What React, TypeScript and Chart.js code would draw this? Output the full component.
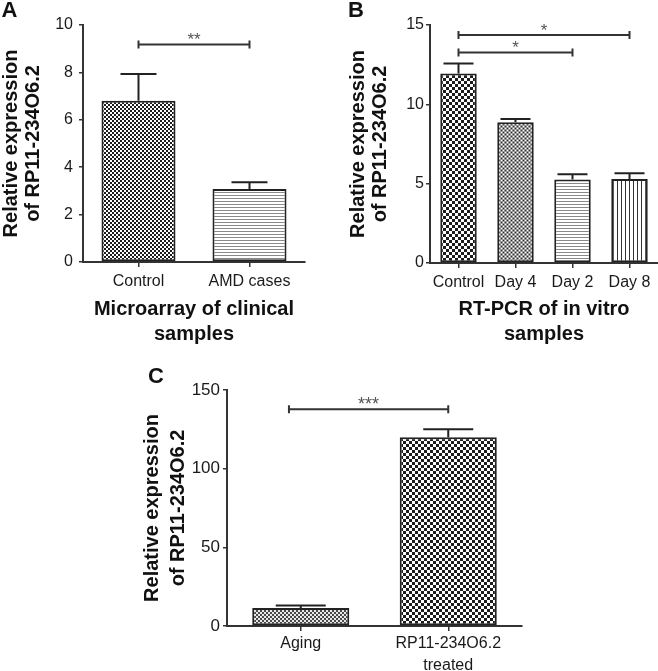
import React, { useEffect, useRef } from "react";
import { Chart, registerables } from "chart.js";

Chart.register(...registerables);

const FONT = "'Liberation Sans', Arial, Helvetica, sans-serif";

// ---------- Panel A data ----------
const catsA: (string | string[])[] = ["Control", "AMD cases"];
const valsA = [6.8, 3.08];
const errA = [1.13, 0.28];
const sigA = [{ from: 0, to: 1, y: 9.18, text: "**" }];
const ticksA = { max: 10, step: 2 };

// ---------- Panel B data ----------
const catsB: (string | string[])[] = ["Control", "Day 4", "Day 2", "Day 8"];
const valsB = [11.95, 8.87, 5.27, 5.3];
const errB = [0.63, 0.2, 0.33, 0.35];
const sigB = [
  { from: 0, to: 3, y: 14.37, text: "*" },
  { from: 0, to: 2, y: 13.27, text: "*" },
];
const ticksB = { max: 15, step: 5 };

// ---------- Panel C data ----------
const catsC: (string | string[])[] = ["Aging", ["RP11-234O6.2", "treated"]];
const valsC = [11.5, 120];
const errC = [1.5, 5];
const sigC = [{ from: -0.08, to: 1, y: 137.8, text: "***" }];
const ticksC = { max: 150, step: 50 };

const yTitleText = ["Relative expression", "of RP11-234O6.2"];

function makePattern(ctx: CanvasRenderingContext2D, kind: string): CanvasPattern | string {
  const c = document.createElement("canvas");
  const g = c.getContext("2d")!;
  if (kind === "checker2") {
    c.width = 4; c.height = 4;
    g.fillStyle = "#fff"; g.fillRect(0, 0, 4, 4);
    g.fillStyle = "#1c1c1c"; g.fillRect(0, 0, 2, 2); g.fillRect(2, 2, 2, 2);
  } else if (kind === "checker3") {
    c.width = 6; c.height = 6;
    g.fillStyle = "#fff"; g.fillRect(0, 0, 6, 6);
    g.fillStyle = "#1c1c1c"; g.fillRect(0, 0, 3, 3); g.fillRect(3, 3, 3, 3);
  } else if (kind === "dots") {
    c.width = 4; c.height = 4;
    g.fillStyle = "#9a9a9a"; g.fillRect(0, 0, 4, 4);
    g.fillStyle = "#ffffff"; g.fillRect(0, 0, 1, 1); g.fillRect(2, 2, 1, 1);
    g.fillStyle = "#2a2a2a"; g.fillRect(2, 0, 1, 1); g.fillRect(0, 2, 1, 1);
  } else if (kind === "fine") {
    c.width = 4; c.height = 4;
    g.fillStyle = "#e8e8e8"; g.fillRect(0, 0, 4, 4);
    g.fillStyle = "#4a4a4a"; g.fillRect(0, 0, 2, 2); g.fillRect(2, 2, 2, 2);
  } else if (kind === "hlines") {
    c.width = 1; c.height = 3;
    g.fillStyle = "#fff"; g.fillRect(0, 0, 1, 3);
    g.fillStyle = "#8a8a8a"; g.fillRect(0, 0, 1, 1);
  } else if (kind === "vlines") {
    c.width = 4; c.height = 1;
    g.fillStyle = "#fff"; g.fillRect(0, 0, 4, 1);
    g.fillStyle = "#333"; g.fillRect(0, 0, 1, 1);
  }
  return ctx.createPattern(c, "repeat") || "#888";
}

type Spec = {
  left: number; top: number; w: number; h: number;
  labels: (string | string[])[]; values: number[]; errors: number[];
  sigs: { from: number; to: number; y: number; text: string }[];
  yMax: number; yStep: number;
  patterns: string[];
  yWidth: number; xHeight: number;
  pad: { left: number; right: number; top: number; bottom: number };
  yTickPad: number; yTickSize: number; xTickPad: number; xTickLH: number;
  yTitleLH: number; yTitlePad: number;
  xTitle: string[] | null; xTitlePadBottom: number;
  barPct: number; cap: number; starSize: number;
  letter: string; letterX: number; letterY: number;
};

const specA: Spec = {
  left: 0, top: 0, w: 329, h: 360,
  labels: catsA, values: valsA, errors: errA, sigs: sigA,
  yMax: ticksA.max, yStep: ticksA.step,
  patterns: ["checker2", "hlines"],
  yWidth: 83, xHeight: 98,
  pad: { left: 0, right: 24, top: 25, bottom: 0 },
  yTickPad: 6, yTickSize: 16, xTickPad: 5, xTickLH: 1.2,
  yTitleLH: 1.08, yTitlePad: 1,
  xTitle: ["Microarray of clinical", "samples"], xTitlePadBottom: 13,
  barPct: 0.667, cap: 18, starSize: 17,
  letter: "A", letterX: 1.5, letterY: 16.5,
};

const specB: Spec = {
  left: 329, top: 0, w: 329, h: 360,
  labels: catsB, values: valsB, errors: errB, sigs: sigB,
  yMax: ticksB.max, yStep: ticksB.step,
  patterns: ["checker3", "dots", "hlines", "vlines"],
  yWidth: 101, xHeight: 97,
  pad: { left: 0, right: 0, top: 25, bottom: 0 },
  yTickPad: 2, yTickSize: 16, xTickPad: 5, xTickLH: 1.2,
  yTitleLH: 1.08, yTitlePad: 19,
  xTitle: ["RT-PCR of in vitro", "samples"], xTitlePadBottom: 13,
  barPct: 0.64, cap: 15, starSize: 17,
  letter: "B", letterX: 19, letterY: 16.5,
};

const specC: Spec = {
  left: 130, top: 360, w: 400, h: 311,
  labels: catsC, values: valsC, errors: errC, sigs: sigC,
  yMax: ticksC.max, yStep: ticksC.step,
  patterns: ["fine", "checker3"],
  yWidth: 97, xHeight: 45,
  pad: { left: 0, right: 8, top: 30, bottom: 0 },
  yTickPad: 3, yTickSize: 17, xTickPad: 2, xTickLH: 1.375,
  yTitleLH: 1.3, yTitlePad: 9,
  xTitle: null, xTitlePadBottom: 0,
  barPct: 0.658, cap: 25, starSize: 18,
  letter: "C", letterX: 18, letterY: 23.3,
};

function buildConfig(spec: Spec, ctx: CanvasRenderingContext2D): any {
  const overlay = {
    id: "overlay",
    afterDatasetsDraw(chart: any) {
      const c = chart.ctx as CanvasRenderingContext2D;
      const x = chart.scales.x;
      const y = chart.scales.y;
      const p0 = x.getPixelForValue(0);
      const p1 = x.getPixelForValue(1);
      const px = (i: number) => p0 + i * (p1 - p0);
      c.save();
      c.strokeStyle = "#222";
      c.lineWidth = 2;
      spec.errors.forEach((e, i) => {
        const v = spec.values[i];
        const cx = x.getPixelForValue(i);
        const y0 = y.getPixelForValue(v);
        const y1 = y.getPixelForValue(v + e);
        c.beginPath();
        c.moveTo(cx, y0);
        c.lineTo(cx, y1);
        c.moveTo(cx - spec.cap, y1);
        c.lineTo(cx + spec.cap, y1);
        c.stroke();
      });
      spec.sigs.forEach((s) => {
        const a = px(s.from);
        const b = px(s.to);
        const yy = y.getPixelForValue(s.y);
        c.strokeStyle = "#333";
        c.beginPath();
        c.moveTo(a, yy); c.lineTo(b, yy);
        c.moveTo(a, yy - 4); c.lineTo(a, yy + 4);
        c.moveTo(b, yy - 4); c.lineTo(b, yy + 4);
        c.stroke();
        c.fillStyle = "#555";
        c.font = `${spec.starSize}px ${FONT}`;
        c.textAlign = "center";
        c.textBaseline = "alphabetic";
        c.fillText(s.text, (a + b) / 2, yy + 1);
      });
      c.fillStyle = "#111";
      c.font = `bold 22px ${FONT}`;
      c.textAlign = "left";
      c.textBaseline = "alphabetic";
      c.fillText(spec.letter, spec.letterX, spec.letterY);
      c.restore();
    },
  };

  return {
    type: "bar",
    data: {
      labels: spec.labels,
      datasets: [
        {
          data: spec.values,
          backgroundColor: spec.patterns.map((k) => makePattern(ctx, k)),
          borderColor: "#222",
          borderWidth: 2,
          borderSkipped: false,
          barPercentage: spec.barPct,
          categoryPercentage: 1,
        },
      ],
    },
    options: {
      animation: false,
      responsive: false,
      events: [],
      layout: { padding: spec.pad },
      plugins: { legend: { display: false }, tooltip: { enabled: false } },
      scales: {
        x: {
          ticks: {
            color: "#1a1a1a",
            font: { family: FONT, size: 16, lineHeight: spec.xTickLH },
            padding: spec.xTickPad,
            maxRotation: 0,
            minRotation: 0,
            autoSkip: false,
          },
          grid: { drawOnChartArea: false, offset: false, tickLength: 5, color: "#333", lineWidth: 1.5 },
          border: { display: true, color: "#333", width: 2 },
          title: spec.xTitle
            ? {
                display: true,
                text: spec.xTitle,
                color: "#111",
                font: { family: FONT, size: 20, weight: "bold", lineHeight: 1.25 },
                padding: { top: 0, bottom: spec.xTitlePadBottom },
              }
            : { display: false },
          afterFit: (s: any) => { s.height = spec.xHeight; },
        },
        y: {
          min: 0,
          max: spec.yMax,
          ticks: {
            stepSize: spec.yStep,
            color: "#1a1a1a",
            font: { family: FONT, size: spec.yTickSize },
            padding: spec.yTickPad,
          },
          grid: { drawOnChartArea: false, tickLength: 4, color: "#333", lineWidth: 1.5 },
          border: { display: true, color: "#333", width: 2 },
          title: {
            display: true,
            text: yTitleText,
            color: "#111",
            font: { family: FONT, size: 20, weight: "bold", lineHeight: spec.yTitleLH },
            padding: { top: spec.yTitlePad, bottom: 0 },
          },
          afterFit: (s: any) => { s.width = spec.yWidth; },
        },
      },
    },
    plugins: [overlay],
  };
}

function Panel({ spec }: { spec: Spec }) {
  const ref = useRef<HTMLCanvasElement>(null);
  useEffect(() => {
    const canvas = ref.current!;
    const ctx = canvas.getContext("2d")!;
    const chart = new Chart(ctx, buildConfig(spec, ctx));
    return () => chart.destroy();
  }, [spec]);
  return (
    <canvas
      ref={ref}
      width={spec.w}
      height={spec.h}
      style={{ position: "absolute", left: spec.left, top: spec.top, width: spec.w, height: spec.h }}
    />
  );
}

export default function App() {
  return (
    <div
      style={{
        position: "absolute",
        left: 0,
        top: 0,
        width: 658,
        height: 671,
        background: "#fff",
        overflow: "hidden",
      }}
    >
      <Panel spec={specA} />
      <Panel spec={specB} />
      <Panel spec={specC} />
    </div>
  );
}
